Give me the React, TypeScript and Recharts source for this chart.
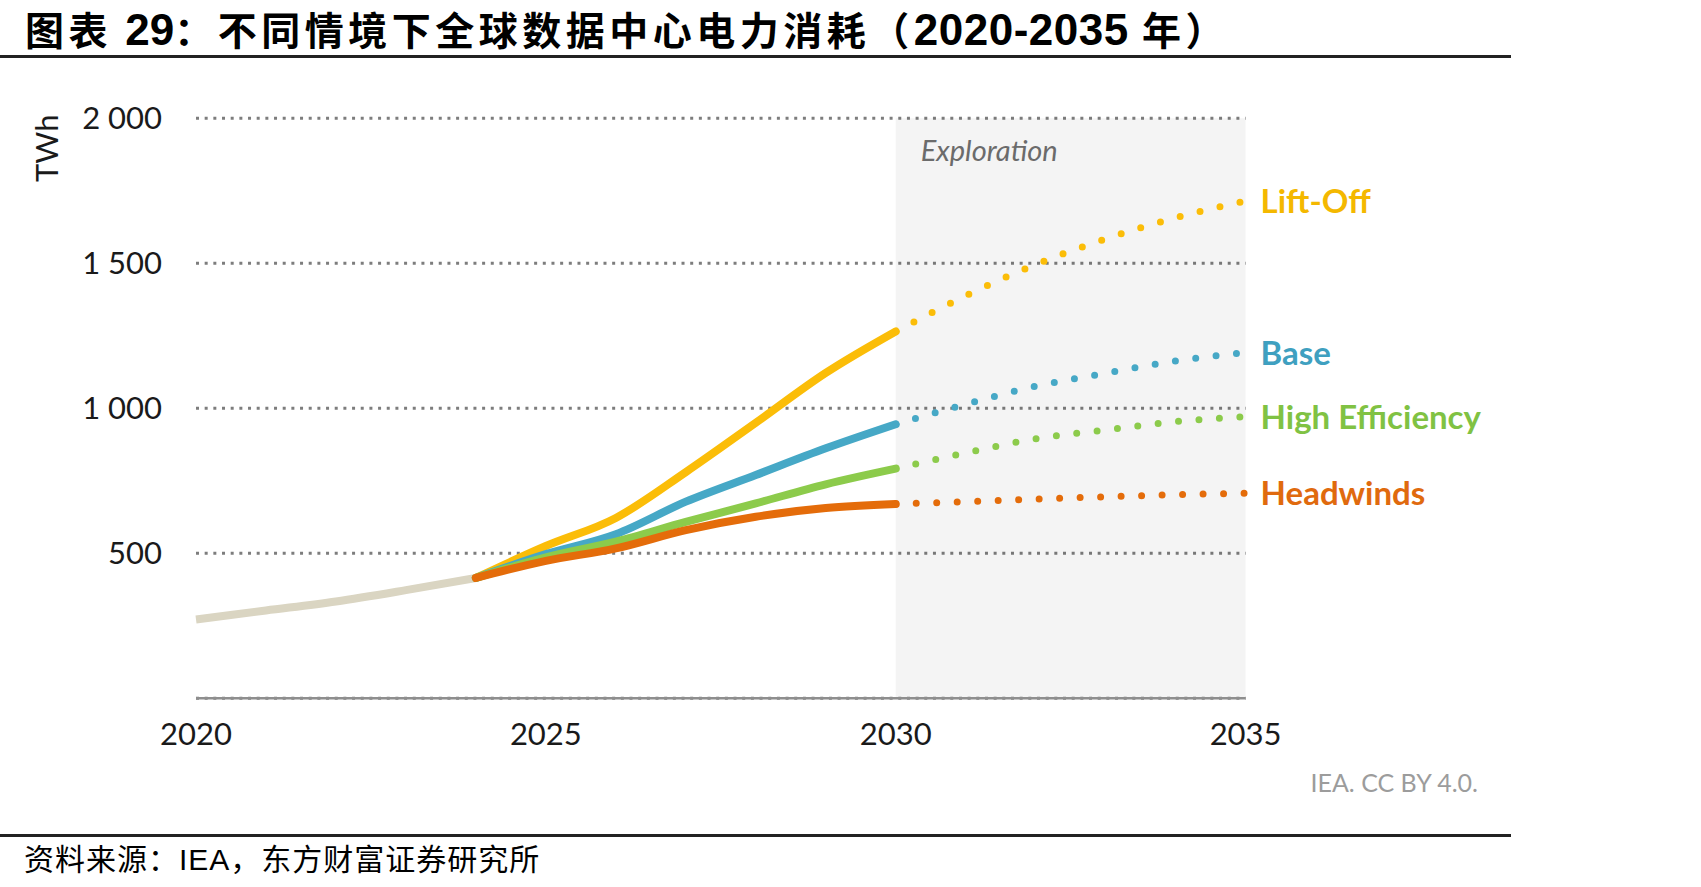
import React from 'react';
import { LineChart, Line, XAxis, YAxis, CartesianGrid, ReferenceArea } from 'recharts';

// Global data centre electricity consumption by scenario, TWh
const years = [2020, 2021, 2022, 2023, 2024, 2025, 2026, 2027, 2028, 2029, 2030, 2031, 2032, 2033, 2034, 2035];
const historyYears = [2020, 2021, 2022, 2023, 2024];
const history = [272, 303, 334, 373, 415];

const scenarioYears = [2024, 2025, 2026, 2027, 2028, 2029, 2030];
const liftOff = [415, 525, 622, 780, 950, 1122, 1265];
const base = [415, 497, 566, 678, 770, 862, 945];
const highEfficiency = [415, 486, 540, 608, 672, 738, 792];
const headwinds = [415, 474, 517, 580, 626, 656, 670];

const explorationYears = [2030, 2031, 2032, 2033, 2034, 2035];
const liftOffExploration = [1265, 1388, 1496, 1584, 1657, 1715];
const baseExploration = [945, 1014, 1076, 1121, 1163, 1192];
const highEfficiencyExploration = [792, 846, 895, 925, 954, 971];
const headwindsExploration = [670, 678, 687, 695, 702, 707];

const xTicks = [2020, 2025, 2030, 2035];
const yTicks = [500, 1000, 1500, 2000];

const scenarios = [
  { key: 'liftOff', name: 'Lift-Off', color: '#FBBD08', text: '#F4B800', solid: liftOff, dotted: liftOffExploration },
  { key: 'base', name: 'Base', color: '#46A8C6', text: '#3FA0C0', solid: base, dotted: baseExploration },
  { key: 'highEfficiency', name: 'High Efficiency', color: '#8CCB4B', text: '#80C243', solid: highEfficiency, dotted: highEfficiencyExploration },
  { key: 'headwinds', name: 'Headwinds', color: '#E46C0A', text: '#E06A0E', solid: headwinds, dotted: headwindsExploration },
];

const pick = (ys: number[], vals: number[], y: number) => {
  const i = ys.indexOf(y);
  return i === -1 ? null : vals[i];
};

const rows = years.map((year) => {
  const row: Record<string, number | null> = { year, history: pick(historyYears, history, year) };
  scenarios.forEach((s) => {
    row[s.key] = pick(scenarioYears, s.solid, year);
    row[s.key + 'X'] = pick(explorationYears, s.dotted, year);
  });
  return row;
});

const fmtTwh = (v: number) =>
  v >= 1000 ? `${Math.floor(v / 1000)} ${String(v % 1000).padStart(3, '0')}` : String(v);

const FONT = 'Lato, "Open Sans", sans-serif';
const CJK = '"Noto Sans CJK SC", sans-serif';
const LATIN = '"Liberation Sans", Arial, sans-serif';

// scenario name drawn just right of the 2035 point
const endLabel = (name: string, color: string) => (p: any) => {
  if (p.payload?.year !== 2035 || p.cy == null) return <g key={`e-${p.index}`} />;
  return (
    <text key={`e-${p.index}`} x={p.cx + 15} y={p.cy + 12} fill={color}
      fontFamily={FONT} fontWeight={700} fontSize={33}>
      {name}
    </text>
  );
};

export default function App() {
  return (
    <div style={{ position: 'absolute', left: 0, top: 0, width: 1701, height: 887, background: '#fff' }}>
      <LineChart width={1701} height={887} data={rows}
        margin={{ top: 118.3, right: 455.4, bottom: 158.7, left: 136 }}>
        <ReferenceArea x1={2030} x2={2035} y1={0} y2={2000} fill="#000" fillOpacity={0.045} stroke="none"
          label={(p: any) => (
            <text x={p.viewBox.x + 25} y={p.viewBox.y + 43} fill="#6b6b6b"
              fontFamily={FONT} fontStyle="italic" fontSize={29}>
              Exploration
            </text>
          )}
        />
        <CartesianGrid vertical={false} stroke="#7d7d7d" strokeWidth={3} strokeDasharray="3 5.67" />
        <XAxis dataKey="year" type="number" domain={[2020, 2035]} ticks={xTicks}
          axisLine={{ stroke: '#8e8e8e', strokeWidth: 2.5 }} tickLine={false} tickSize={0} tickMargin={25}
          tick={{ fontFamily: FONT, fontSize: 31, fill: '#1a1a1a' }} />
        <YAxis type="number" domain={[0, 2000]} ticks={yTicks} width={60}
          axisLine={false} tickLine={false} tickSize={0} tickMargin={34}
          tickFormatter={fmtTwh}
          tick={{ fontFamily: FONT, fontSize: 31, fill: '#1a1a1a' }}
          label={(p: any) => (
            <text transform={`translate(${p.viewBox.x - 78}, ${p.viewBox.y + 30}) rotate(-90)`}
              textAnchor="middle" fill="#1a1a1a" fontFamily={FONT} fontSize={31}>
              TWh
            </text>
          )}
        />
        <Line dataKey="history" type="monotone" stroke="#DAD5C2" strokeWidth={8} strokeLinecap="butt"
          dot={false} activeDot={false} isAnimationActive={false} />
        {scenarios.map((s) => (
          <Line key={s.key} dataKey={s.key} type="monotone" stroke={s.color} strokeWidth={8}
            strokeLinecap="round" strokeLinejoin="round" dot={false} activeDot={false} isAnimationActive={false} />
        ))}
        {scenarios.map((s) => (
          <Line key={s.key + 'X'} dataKey={s.key + 'X'} type="monotone" stroke={s.color} strokeWidth={7}
            strokeLinecap="round" strokeDasharray="0 20.5" dot={endLabel(s.name, s.text)} activeDot={false}
            isAnimationActive={false} />
        ))}
      </LineChart>

      <div style={{ position: 'absolute', left: 25, top: 8, fontFamily: CJK, fontWeight: 700, fontSize: 39,
        lineHeight: '40px', letterSpacing: 4.5, whiteSpace: 'nowrap', color: '#000' }}>
        图表 <span style={{ fontFamily: LATIN, fontSize: 44, letterSpacing: 0 }}>29</span>：不同情境下全球数据中心电力消耗（<span style={{ fontFamily: LATIN, fontSize: 44, letterSpacing: 0.5 }}>2020-2035</span> 年）
      </div>
      <div style={{ position: 'absolute', left: 0, top: 55, width: 1511, height: 3, background: '#222' }} />

      <div style={{ position: 'absolute', left: 1278, top: 770, width: 200, textAlign: 'right', fontFamily: FONT,
        fontSize: 25, lineHeight: '25px', color: '#9c9c9c', whiteSpace: 'nowrap' }}>
        IEA. CC BY 4.0.
      </div>

      <div style={{ position: 'absolute', left: 0, top: 834, width: 1511, height: 3, background: '#222' }} />
      <div style={{ position: 'absolute', left: 24, top: 842, fontFamily: CJK, fontSize: 30, lineHeight: '30px',
        letterSpacing: 1, whiteSpace: 'nowrap', color: '#000' }}>
        资料来源：<span style={{ fontFamily: LATIN }}>IEA</span>，东方财富证券研究所
      </div>
    </div>
  );
}
